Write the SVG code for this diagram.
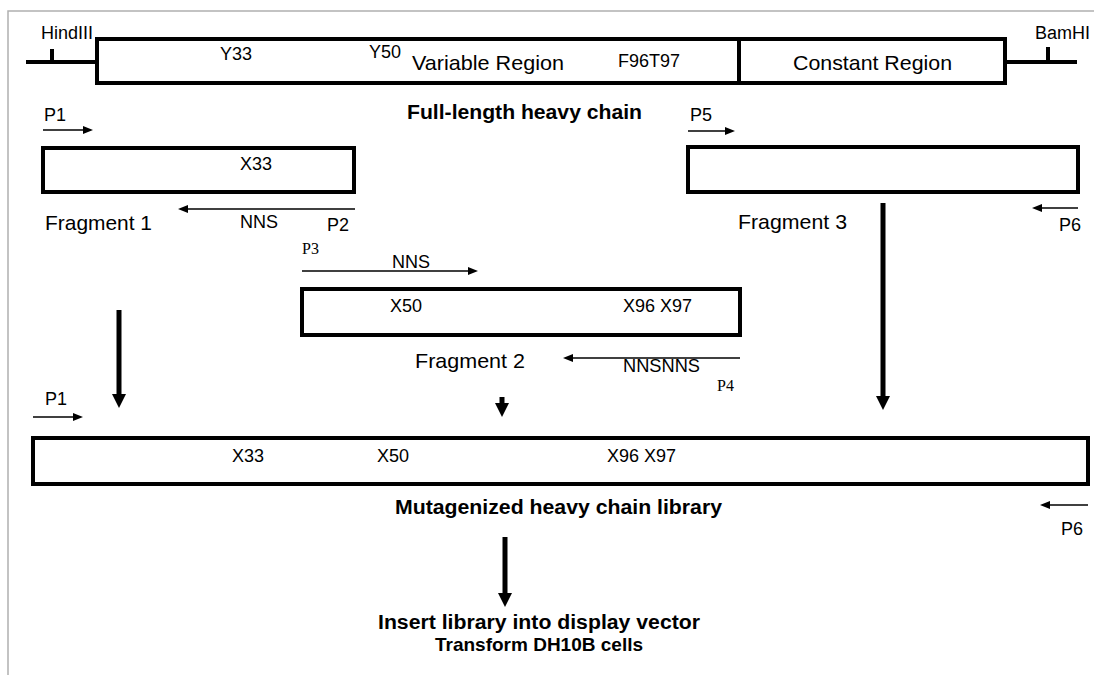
<svg xmlns="http://www.w3.org/2000/svg" width="1094" height="675" viewBox="0 0 1094 675">
<defs>
<style>
.box{fill:#fff;stroke:#000;stroke-width:4}
.ln{stroke:#000;stroke-width:4;fill:none}
.thin{stroke:#000;stroke-width:1.5;fill:none;marker-end:url(#ah)}
.thick{stroke:#000;stroke-width:5;fill:none;marker-end:url(#AH)}
.s{font-family:"Liberation Sans",Arial,sans-serif;font-size:18px;fill:#000}
.m{font-family:"Liberation Sans",Arial,sans-serif;font-size:21px;fill:#000}
.b{font-family:"Liberation Sans",Arial,sans-serif;font-size:20px;font-weight:bold;fill:#000}
.sf{font-family:"Liberation Serif","Times New Roman",serif;font-size:16px;fill:#000}
</style>
<marker id="ah" viewBox="0 0 10 8" refX="1" refY="4" markerWidth="10" markerHeight="8" markerUnits="userSpaceOnUse" orient="auto"><path d="M0,0 L10,4 L0,8 z" fill="#000"/></marker>
<marker id="AH" viewBox="0 0 14 14" refX="1" refY="7" markerWidth="14" markerHeight="14" markerUnits="userSpaceOnUse" orient="auto"><path d="M0,0 L14,7 L0,14 z" fill="#000"/></marker>
</defs>
<rect width="1094" height="675" fill="#fff"/>
<path d="M8,675 L8,11 L1094,11" fill="none" stroke="#b0b0b0" stroke-width="1.5"/>

<g id="full-length">
<path class="ln" d="M26,62 L97,62 M52,62 L52,49 M1005,62 L1077,62 M1048,62 L1048,47"/>
<rect class="box" x="97" y="39" width="908" height="44"/>
<line class="ln" x1="739" y1="39" x2="739" y2="83"/>
<text class="s" x="41" y="39">HindIII</text>
<text class="s" x="1090" y="39" text-anchor="end">BamHI</text>
<text class="s" x="220" y="60">Y33</text>
<text class="s" x="369" y="58">Y50</text>
<text class="m" x="412" y="70" textLength="152" lengthAdjust="spacingAndGlyphs">Variable Region</text>
<text class="s" x="618" y="67" textLength="62" lengthAdjust="spacingAndGlyphs">F96T97</text>
<text class="m" x="793" y="70" textLength="159" lengthAdjust="spacingAndGlyphs">Constant Region</text>
<text class="b" x="407" y="119" textLength="235" lengthAdjust="spacingAndGlyphs">Full-length heavy chain</text>
</g>

<g id="fragment1">
<rect class="box" x="43" y="148" width="311" height="44"/>
<text class="s" x="44" y="121">P1</text>
<text class="s" x="240" y="170">X33</text>
<text class="s" x="240" y="228">NNS</text>
<text class="s" x="327" y="231">P2</text>
<text class="m" x="45" y="230" textLength="107" lengthAdjust="spacingAndGlyphs">Fragment 1</text>
</g>

<g id="fragment3">
<rect class="box" x="688" y="147" width="390" height="45"/>
<text class="s" x="690" y="121">P5</text>
<text class="m" x="738" y="229" textLength="109" lengthAdjust="spacingAndGlyphs">Fragment 3</text>
<text class="s" x="1059" y="231">P6</text>
</g>

<g id="fragment2">
<rect class="box" x="302" y="289" width="438" height="46"/>
<text class="sf" x="302" y="254">P3</text>
<text class="s" x="392" y="268">NNS</text>
<text class="s" x="390" y="312">X50</text>
<text class="s" x="623" y="312">X96 X97</text>
<text class="m" x="415" y="368" textLength="110" lengthAdjust="spacingAndGlyphs">Fragment 2</text>
<text class="s" x="623" y="372" textLength="77" lengthAdjust="spacingAndGlyphs">NNSNNS</text>
<text class="sf" x="717" y="391">P4</text>
</g>

<g id="library">
<rect class="box" x="33" y="438" width="1055" height="46"/>
<text class="s" x="45" y="405">P1</text>
<text class="s" x="232" y="462">X33</text>
<text class="s" x="377" y="462">X50</text>
<text class="s" x="607" y="462">X96 X97</text>
<text class="b" x="395" y="514" textLength="327" lengthAdjust="spacingAndGlyphs">Mutagenized heavy chain library</text>
<text class="s" x="1061" y="535">P6</text>
</g>

<g id="output">
<text class="b" x="378" y="629" textLength="322" lengthAdjust="spacingAndGlyphs">Insert library into display vector</text>
<text class="b" x="539" y="651" text-anchor="middle" style="font-size:19px">Transform DH10B cells</text>
</g>

<g id="connectors">
<line class="thin" x1="43" y1="130" x2="84" y2="130"/>
<line class="thin" x1="355" y1="209" x2="187" y2="209"/>
<line class="thin" x1="688" y1="131" x2="726" y2="131"/>
<line class="thin" x1="1078" y1="208" x2="1041" y2="208"/>
<line class="thin" x1="302" y1="271" x2="469" y2="271"/>
<line class="thin" x1="740" y1="358" x2="572" y2="358"/>
<line class="thin" x1="33" y1="417" x2="74" y2="417"/>
<line class="thin" x1="1088" y1="505" x2="1049" y2="505"/>
<line class="thick" x1="119" y1="310" x2="119" y2="395"/>
<line class="thick" x1="883" y1="203" x2="883" y2="397"/>
<line class="thick" x1="502" y1="397" x2="502" y2="404"/>
<line class="thick" x1="505" y1="537" x2="505" y2="594"/>
</g>
</svg>
